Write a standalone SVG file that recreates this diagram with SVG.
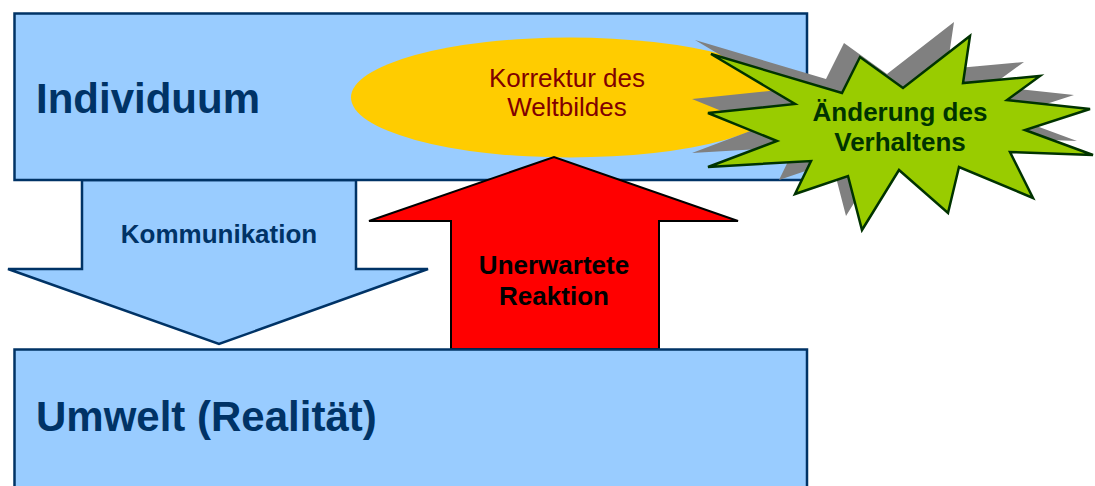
<svg xmlns="http://www.w3.org/2000/svg" width="1095" height="486" viewBox="0 0 1095 486">
  <style>
    .box { fill: #99ccff; stroke: #003366; stroke-width: 2.5; }
    .big { font-family: "Liberation Sans", Arial, sans-serif; font-weight: bold; font-size: 42px; fill: #003366; }
    .lbl { font-family: "Liberation Sans", Arial, sans-serif; font-size: 26px; text-anchor: middle; }
    .bold { font-weight: bold; }
  </style>
  <rect width="1095" height="486" fill="#ffffff"/>
  <g id="connectors">
    <g id="kommunikation">
      <polygon class="box" points="82,180 356,180 356,269 428,269 219,344 8,269 82,269"/>
      <text class="lbl bold" x="219" y="243" fill="#003366">Kommunikation</text>
    </g>
  </g>
  <g id="individuum">
    <rect class="box" x="14.5" y="13.5" width="792.5" height="166.5"/>
    <text class="big" x="36" y="113">Individuum</text>
  </g>
  <g id="korrektur">
    <ellipse cx="570" cy="97.5" rx="219" ry="60" fill="#ffcc00"/>
    <text class="lbl" x="567" y="87" fill="#800000">Korrektur des</text>
    <text class="lbl" x="567" y="116" fill="#800000">Weltbildes</text>
  </g>
  <g id="reaktion">
    <polygon points="451,349 451,221 369,221 554,157 738,221 659,221 659,349" fill="#ff0000" stroke="#000000" stroke-width="2"/>
    <text class="lbl bold" x="554" y="274" fill="#000000">Unerwartete</text>
    <text class="lbl bold" x="554" y="305" fill="#000000">Reaktion</text>
  </g>
  <g id="umwelt">
    <rect class="box" x="14.5" y="349.5" width="792.5" height="150"/>
    <text class="big" x="36" y="431">Umwelt (Realität)</text>
  </g>
  <g id="verhalten">
    <defs>
      <polygon id="star" points="711,54 842,93 860,57 903,88 970,36 963,83 1040,76 1007,100 1090,109 1025,130 1093,155 1010,152 1033,198 959,167 948,213 899,170 862,230 848,176 795,194 811,161 708,167 777,141 708,113 795,104"/>
    </defs>
    <use href="#star" transform="translate(-16,-14)" fill="#808080"/>
    <use href="#star" fill="#99cc00" stroke="#003300" stroke-width="2.5" stroke-linejoin="miter"/>
    <text class="lbl bold" x="900" y="121" fill="#003300">Änderung des</text>
    <text class="lbl bold" x="900" y="151" fill="#003300">Verhaltens</text>
  </g>
</svg>
